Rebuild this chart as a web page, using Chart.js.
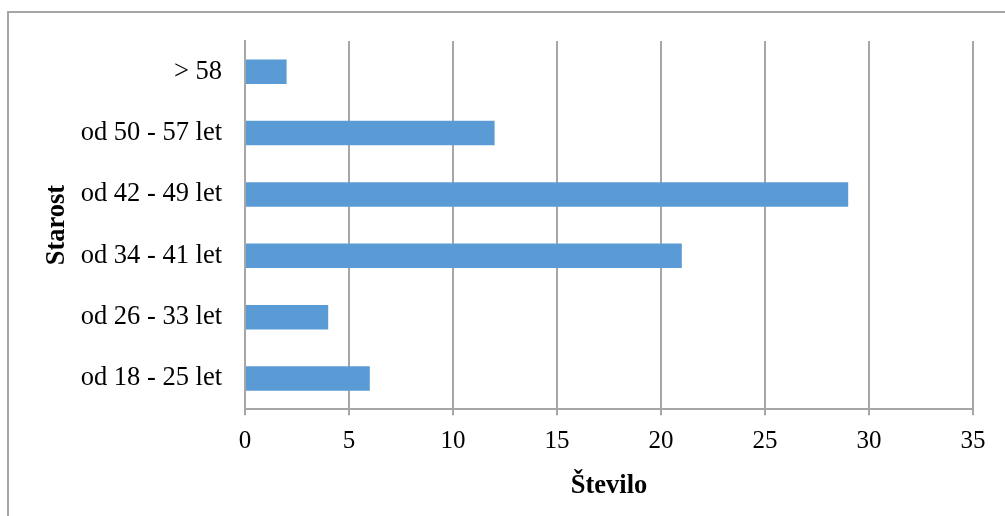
<!DOCTYPE html>
<html>
<head>
<meta charset="utf-8">
<script src="https://cdn.jsdelivr.net/npm/chart.js@4/dist/chart.umd.min.js"></script>
<style>
  html, body { margin: 0; padding: 0; background: #ffffff; }
  #wrap { position: relative; width: 1005px; height: 516px; overflow: hidden; }
  #frame { position: absolute; left: 7px; top: 11px; width: 1020px; height: 530px;
           border: 2px solid #a6a6a6; box-sizing: border-box; pointer-events: none; }
  canvas { position: absolute; left: 0; top: 0; }
</style>
</head>
<body>
<div id="wrap">
  <canvas id="chart" width="1005" height="516"></canvas>
  <div id="frame"></div>
</div>
<script>
// Starostne skupine (od zgoraj navzdol) in število anketirancev
const categories = ['> 58', 'od 50 - 57 let', 'od 42 - 49 let', 'od 34 - 41 let', 'od 26 - 33 let', 'od 18 - 25 let'];
const counts = [2, 12, 29, 21, 4, 6];
const xTicks = [0, 5, 10, 15, 20, 25, 30, 35];

const serif = '"Liberation Serif", "Times New Roman", serif';

new Chart(document.getElementById('chart'), {
  type: 'bar',
  data: {
    labels: categories,
    datasets: [{
      data: counts,
      backgroundColor: '#5b9bd5',
      borderWidth: 0,
      categoryPercentage: 1,
      barPercentage: 0.4
    }]
  },
  options: {
    indexAxis: 'y',
    responsive: false,
    animation: false,
    layout: { padding: { left: 0, right: 32, top: 41, bottom: 14 } },
    plugins: { legend: { display: false }, tooltip: { enabled: false } },
    scales: {
      x: {
        min: xTicks[0],
        max: xTicks[xTicks.length - 1],
        afterBuildTicks: (scale) => { scale.ticks = xTicks.map(v => ({ value: v })); },
        grid: { color: '#a6a6a6', lineWidth: 2, tickLength: 6, drawTicks: true },
        border: { display: true, color: '#a6a6a6', width: 2 },
        ticks: { color: '#000', font: { family: serif, size: 25 }, padding: 11, maxRotation: 0 },
        title: { display: true, text: 'Število', color: '#000',
                 font: { family: serif, size: 26.5, weight: 'bold' }, padding: { top: 3, bottom: 0 } }
      },
      y: {
        afterFit: (scale) => { scale.width = 245; },
        grid: { display: false, drawTicks: false },
        border: { display: true, color: '#a6a6a6', width: 2 },
        ticks: { color: '#000', font: { family: serif, size: 26.5 }, padding: 23 },
        title: { display: true, text: 'Starost', color: '#000',
                 font: { family: serif, size: 26.5, weight: 'bold' }, padding: { top: 41, bottom: 0 } }
      }
    }
  }
});
</script>
</body>
</html>
